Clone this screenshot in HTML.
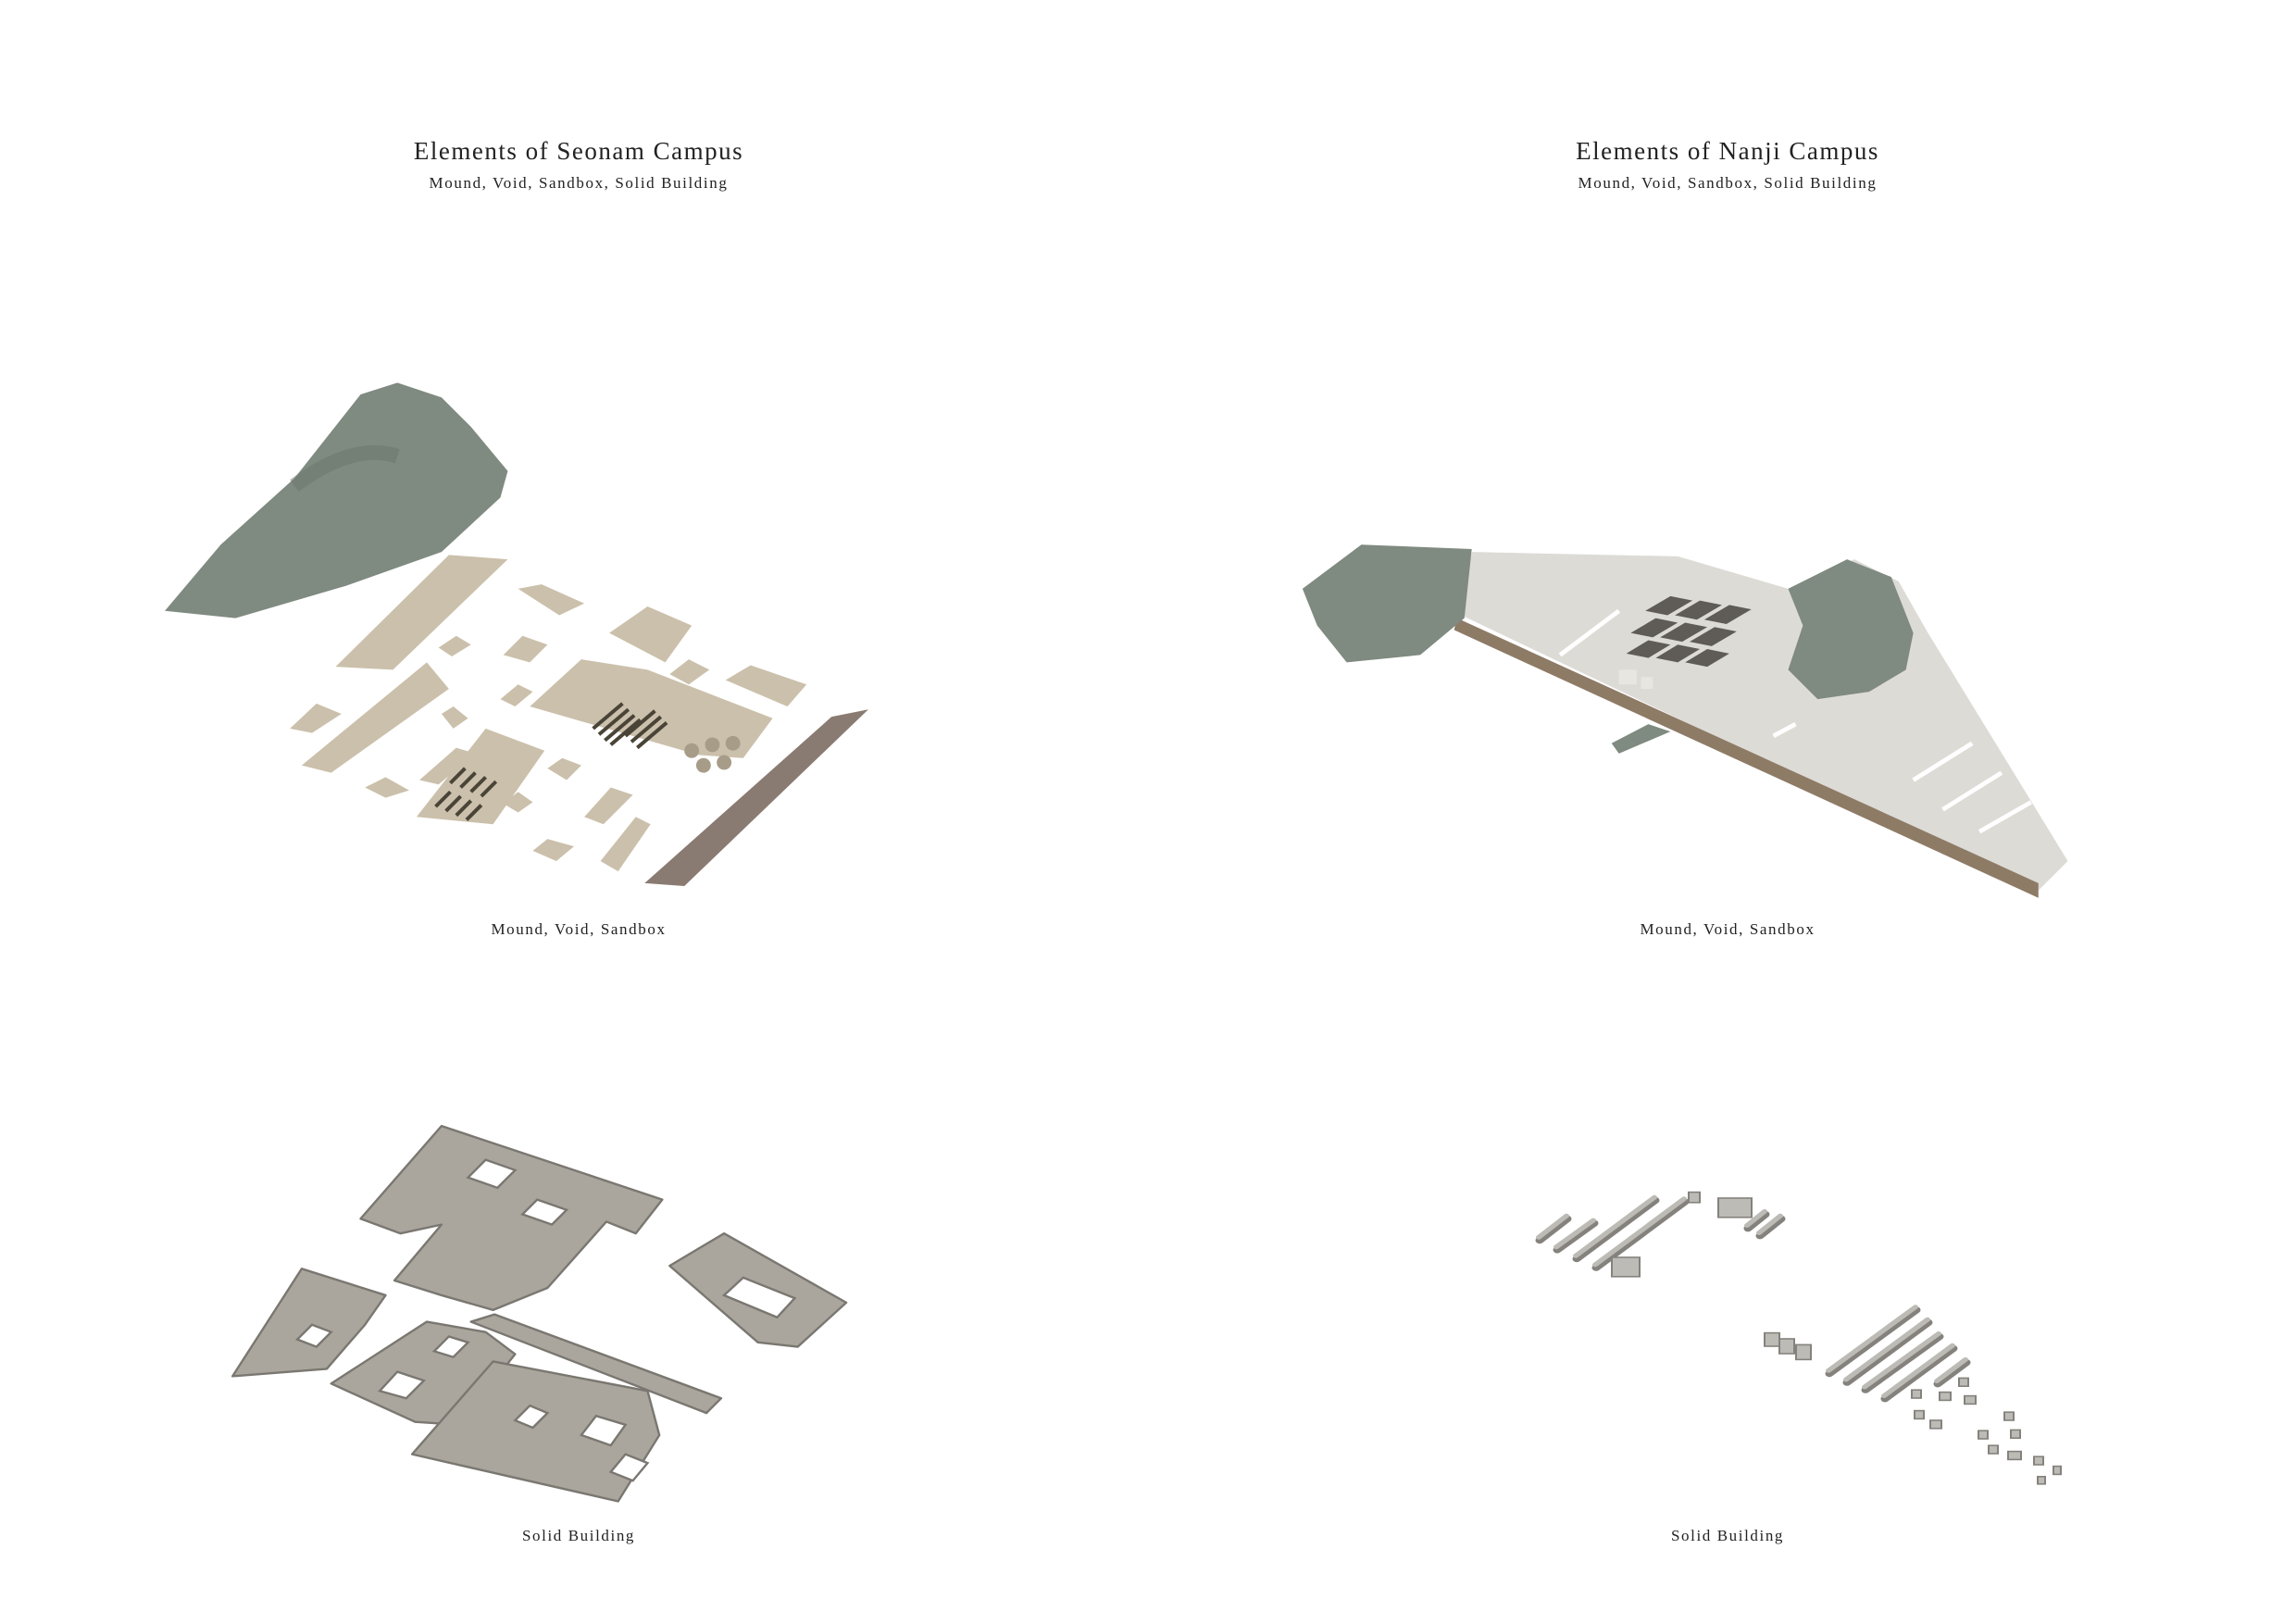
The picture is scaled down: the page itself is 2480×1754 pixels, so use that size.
<!DOCTYPE html>
<html><head><meta charset="utf-8"><style>
html,body{margin:0;padding:0;background:#fff}
svg{display:block}
text{font-family:"Liberation Serif",serif;fill:#222;text-anchor:middle}
</style></head><body>
<svg width="2480" height="1754" viewBox="0 0 2480 1754" xmlns="http://www.w3.org/2000/svg">
<text x="625" y="172" font-size="27" letter-spacing="1.5">Elements of Seonam Campus</text>
<text x="625" y="203" font-size="17" letter-spacing="1.6">Mound, Void, Sandbox, Solid Building</text>
<text x="1866" y="172" font-size="27" letter-spacing="1.5">Elements of Nanji Campus</text>
<text x="1866" y="203" font-size="17" letter-spacing="1.6">Mound, Void, Sandbox, Solid Building</text>
<text x="625" y="1009" font-size="17" letter-spacing="1.6">Mound, Void, Sandbox</text>
<text x="1866" y="1009" font-size="17" letter-spacing="1.6">Mound, Void, Sandbox</text>
<text x="625" y="1664" font-size="17" letter-spacing="1.6">Solid Building</text>
<text x="1866" y="1664" font-size="17" letter-spacing="1.6">Solid Building</text>

<g transform="scale(1.5897)">
<!-- Seonam mound -->
<polygon points="112,415 150,370 200,325 245,268 270,260 300,270 320,290 345,320 340,338 300,375 235,398 160,420" fill="#7f8a80"/>
<path d="M200,330 Q240,300 270,310" stroke="#6a746b" stroke-width="10" fill="none" opacity="0.5"/>
<g fill="#cbc0ab">
<polygon points="228,453 305,377 345,380 267,455"/>
<polygon points="205,520 290,450 305,468 225,525"/>
<polygon points="352,400 368,397 397,410 380,418"/>
<polygon points="298,440 310,432 320,438 307,446"/>
<polygon points="342,445 355,432 372,438 360,450"/>
<polygon points="414,430 440,412 470,425 452,450"/>
<polygon points="360,480 395,448 440,455 525,488 505,515 475,513"/>
<polygon points="455,458 468,448 482,455 468,465"/>
<polygon points="493,462 510,452 548,465 535,480"/>
<polygon points="197,495 215,478 232,485 212,498"/>
<polygon points="285,530 310,508 323,512 298,533"/>
<polygon points="283,555 330,495 370,510 335,560"/>
<polygon points="248,535 262,528 278,537 262,542"/>
<polygon points="362,578 372,570 390,575 378,585"/>
<polygon points="397,555 415,535 430,540 410,560"/>
<polygon points="408,585 432,555 442,560 420,592"/>
<polygon points="372,522 382,515 395,520 385,530"/>
<polygon points="342,546 352,538 362,545 352,552"/>
<polygon points="300,485 308,480 318,488 308,495"/>
<polygon points="340,475 352,465 362,470 350,480"/>
</g>
<g stroke="#4a4438" stroke-width="2.5">
<line x1="296" y1="548" x2="306" y2="538"/><line x1="303" y1="551" x2="313" y2="541"/><line x1="310" y1="554" x2="320" y2="544"/><line x1="317" y1="557" x2="327" y2="547"/>
<line x1="306" y1="532" x2="316" y2="522"/><line x1="313" y1="535" x2="323" y2="525"/><line x1="320" y1="538" x2="330" y2="528"/><line x1="327" y1="541" x2="337" y2="531"/>
<line x1="403" y1="495" x2="423" y2="478"/><line x1="407" y1="499" x2="427" y2="482"/><line x1="411" y1="503" x2="431" y2="486"/><line x1="415" y1="506" x2="435" y2="489"/>
<line x1="425" y1="500" x2="445" y2="483"/><line x1="429" y1="504" x2="449" y2="487"/><line x1="433" y1="508" x2="453" y2="491"/>
</g>
<g fill="#a79c88"><circle cx="470" cy="510" r="5"/><circle cx="484" cy="506" r="5"/><circle cx="498" cy="505" r="5"/><circle cx="478" cy="520" r="5"/><circle cx="492" cy="518" r="5"/></g>
<polygon points="438,600 565,487 590,482 465,602" fill="#8a7b72"/>

<!-- Nanji -->
<polygon points="1000,375 1140,378 1215,400 1260,380 1290,395 1310,430 1405,585 1385,605 993,418" fill="#dddbd6"/>
<polygon points="990,420 1385,600 1385,610 988,428" fill="#8d7b66"/>
<polygon points="885,400 925,370 1000,373 995,420 965,445 915,450 895,425" fill="#7f8a80"/>
<polygon points="1215,400 1255,380 1285,392 1300,430 1295,455 1270,470 1235,475 1215,455 1225,425" fill="#7f8a80"/>
<polygon points="1095,505 1120,492 1135,497 1100,512" fill="#7f8a80"/>
<g fill="#5f5c58">
<polygon points="1118,415 1135,405 1150,408 1133,418"/><polygon points="1138,418 1155,408 1170,411 1153,421"/><polygon points="1158,421 1175,411 1190,414 1173,424"/>
<polygon points="1108,430 1125,420 1140,423 1123,433"/><polygon points="1128,433 1145,423 1160,426 1143,436"/><polygon points="1148,436 1165,426 1180,429 1163,439"/>
<polygon points="1105,444 1120,435 1135,438 1120,447"/><polygon points="1125,447 1140,438 1155,441 1140,450"/><polygon points="1145,450 1160,441 1175,444 1160,453"/>
</g>
<g stroke="#fff" stroke-width="3"><line x1="1205" y1="500" x2="1220" y2="492"/><line x1="1300" y1="530" x2="1340" y2="505"/><line x1="1320" y1="550" x2="1360" y2="525"/><line x1="1345" y1="565" x2="1380" y2="545"/><line x1="1060" y1="445" x2="1100" y2="415"/></g>
<g fill="#e8e6e0"><rect x="1100" y="455" width="12" height="10"/><rect x="1115" y="460" width="8" height="8"/></g>

<!-- Seonam solid building -->
<g fill="#aaa69e" stroke="#7a7771" stroke-width="1.5" stroke-linejoin="round">
<polygon points="245,828 300,765 450,815 432,838 412,830 372,875 335,890 300,880 268,870 300,832 272,838"/>
<polygon points="455,860 492,838 575,885 542,915 515,912"/>
<polygon points="158,935 205,862 262,880 248,900 222,930"/>
<polygon points="225,940 290,898 330,905 350,920 312,968 282,966"/>
<polygon points="280,988 335,925 440,945 448,975 420,1020"/>
<polygon points="320,898 336,893 490,950 480,960"/>
</g>
<g fill="#fff" stroke="#7a7771" stroke-width="1.5">
<polygon points="318,800 330,788 350,795 338,807"/><polygon points="355,825 365,815 385,822 375,832"/>
<polygon points="492,880 505,868 540,882 528,895"/><polygon points="202,910 212,900 225,905 215,915"/>
<polygon points="258,945 270,932 288,938 276,950"/><polygon points="295,918 305,908 318,912 308,922"/>
<polygon points="395,975 405,962 425,968 415,982"/><polygon points="415,1000 425,988 440,994 430,1006"/>
<polygon points="350,965 360,955 372,960 362,970"/>
</g>
</g>

<!-- Nanji solid (full coords) -->
<g transform="translate(6,1270) scale(1,0.8) translate(0,-1270)">
<g stroke-linecap="round">
<g stroke="#85827d" stroke-width="9">
<line x1="1657" y1="1357" x2="1687" y2="1328"/><line x1="1676" y1="1370" x2="1716" y2="1334"/><line x1="1697" y1="1382" x2="1782" y2="1303"/><line x1="1718" y1="1394" x2="1814" y2="1305"/>
<line x1="1970" y1="1537" x2="2064" y2="1451"/><line x1="1989" y1="1549" x2="2077" y2="1468"/><line x1="2009" y1="1559" x2="2089" y2="1487"/><line x1="2030" y1="1571" x2="2104" y2="1503"/><line x1="2087" y1="1551" x2="2118" y2="1522"/>
<line x1="1882" y1="1341" x2="1901" y2="1322"/><line x1="1895" y1="1351" x2="1918" y2="1328"/>
</g>
<g stroke="#bdbbb6" stroke-width="6">
<line x1="1656" y1="1353" x2="1686" y2="1324"/><line x1="1675" y1="1366" x2="1715" y2="1330"/><line x1="1696" y1="1378" x2="1781" y2="1299"/><line x1="1717" y1="1390" x2="1813" y2="1301"/>
<line x1="1969" y1="1533" x2="2063" y2="1447"/><line x1="1988" y1="1545" x2="2076" y2="1464"/><line x1="2008" y1="1555" x2="2088" y2="1483"/><line x1="2029" y1="1567" x2="2103" y2="1499"/><line x1="2086" y1="1547" x2="2117" y2="1518"/>
<line x1="1881" y1="1337" x2="1900" y2="1318"/><line x1="1894" y1="1347" x2="1917" y2="1324"/>
</g>
</g>
<g fill="#bdbbb6" stroke="#85827d" stroke-width="2">
<rect x="1735" y="1380" width="30" height="26"/><rect x="1818" y="1292" width="12" height="14"/><rect x="1850" y="1300" width="36" height="26"/>
<rect x="1900" y="1482" width="16" height="18"/><rect x="1916" y="1490" width="16" height="20"/><rect x="1934" y="1498" width="16" height="20"/>
<rect x="2059" y="1559" width="10" height="11"/><rect x="2089" y="1562" width="12" height="11"/><rect x="2110" y="1543" width="10" height="11"/><rect x="2116" y="1567" width="12" height="11"/>
<rect x="2062" y="1587" width="10" height="11"/><rect x="2079" y="1600" width="12" height="11"/><rect x="2159" y="1589" width="10" height="11"/><rect x="2131" y="1614" width="10" height="11"/>
<rect x="2166" y="1613" width="10" height="11"/><rect x="2142" y="1634" width="10" height="11"/><rect x="2163" y="1642" width="14" height="11"/><rect x="2191" y="1649" width="10" height="11"/>
<rect x="2212" y="1662" width="8" height="11"/><rect x="2195" y="1676" width="8" height="10"/>
</g>
</g>
</svg>
</body></html>
